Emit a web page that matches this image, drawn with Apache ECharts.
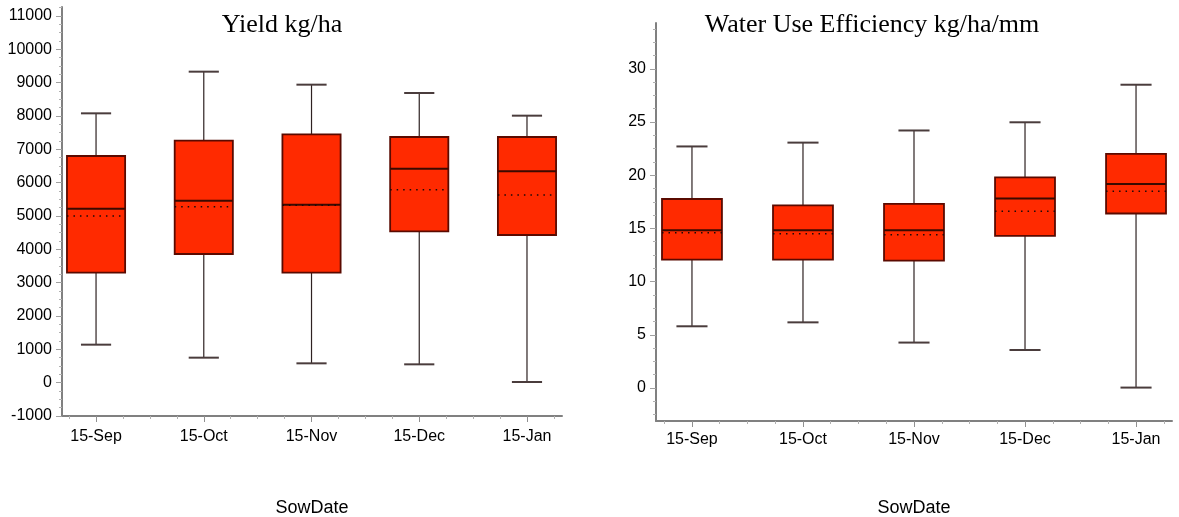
<!DOCTYPE html>
<html>
<head>
<meta charset="utf-8">
<script src="https://cdn.jsdelivr.net/npm/echarts@6/dist/echarts.min.js"></script>
<style>
  html, body { margin: 0; padding: 0; background: #fff; }
  #chart { width: 1179px; height: 517px; }
</style>
</head>
<body>
<div id="chart"></div>
<script>
// sowing dates (x categories, placed at 1..5 on a value axis)
const sowDates = ["15-Sep", "15-Oct", "15-Nov", "15-Dec", "15-Jan"];

// Yield kg/ha: [min, Q1, median, Q3, max] and mean
const yieldBox = [
  [1140, 3300, 5220, 6800, 8080],
  [750, 3860, 5460, 7260, 9330],
  [580, 3300, 5340, 7450, 8940],
  [550, 4540, 6420, 7370, 8690],
  [20, 4430, 6340, 7370, 8010]
];
const yieldMean = [5000, 5280, 5320, 5790, 5630];

// Water use efficiency kg/ha/mm
const wueBox = [
  [5.8, 12.07, 14.82, 17.76, 22.7],
  [6.17, 12.07, 14.82, 17.17, 23.06],
  [4.27, 11.97, 14.82, 17.3, 24.2],
  [3.57, 14.3, 17.8, 19.8, 24.97],
  [0.04, 16.4, 19.17, 22.0, 28.5]
];
const wueMean = [14.6, 14.5, 14.4, 16.6, 18.5];

// tick values
const catTicks = [1, 2, 3, 4, 5];
const catMinorTicks = [0.75, 1.25, 1.5, 1.75, 2.25, 2.5, 2.75, 3.25, 3.5, 3.75, 4.25, 4.5, 4.75, 5.25];
const yieldTicks = [-1000, 0, 1000, 2000, 3000, 4000, 5000, 6000, 7000, 8000, 9000, 10000, 11000];
const wueTicks = [0, 5, 10, 15, 20, 25, 30];

function minorList(from, to, step, skip) {
  const out = [];
  for (let v = from; v <= to + 1e-9; v += step) {
    const r = Math.round(v * 1000) / 1000;
    if (Math.abs(r / skip - Math.round(r / skip)) > 1e-6) out.push(r);
  }
  return out;
}
const yieldMinor = minorList(-1000, 11250, 250, 1000);
const wueMinor = minorList(-2.5, 33.75, 1.25, 5);

const FILL = "#ff2a00";
const EDGE = "#5a0a00";
const WHISK = "#2e2222";
const SANS = "'Liberation Sans', Arial, sans-serif";
const SERIF = "'Liberation Serif', 'Times New Roman', serif";

function boxData(box, mean) {
  return box.map((b, i) => [i + 1, b[0], b[1], b[2], b[3], b[4], mean[i]]);
}

function renderBox(params, api) {
  const x = api.value(0);
  const unit = api.size([1, 0])[0];
  const half = unit * 0.27;
  const cap = unit * 0.14;
  const pMin = api.coord([x, api.value(1)]);
  const pQ1 = api.coord([x, api.value(2)]);
  const pMed = api.coord([x, api.value(3)]);
  const pQ3 = api.coord([x, api.value(4)]);
  const pMax = api.coord([x, api.value(5)]);
  const pMean = api.coord([x, api.value(6)]);
  const cx = pMed[0];
  const line = (x1, y1, x2, y2, style) => ({ type: "line", shape: { x1, y1, x2, y2 }, style });
  return {
    type: "group",
    children: [
      line(cx, pMax[1], cx, pQ3[1], { stroke: WHISK, lineWidth: 1.2 }),
      line(cx, pQ1[1], cx, pMin[1], { stroke: WHISK, lineWidth: 1.2 }),
      line(cx - cap, pMax[1], cx + cap, pMax[1], { stroke: "#4a3c3c", lineWidth: 2 }),
      line(cx - cap, pMin[1], cx + cap, pMin[1], { stroke: "#4a3c3c", lineWidth: 2 }),
      {
        type: "rect",
        shape: { x: cx - half, y: pQ3[1], width: half * 2, height: pQ1[1] - pQ3[1] },
        style: { fill: FILL, stroke: EDGE, lineWidth: 1.8 }
      },
      line(cx - half, pMed[1], cx + half, pMed[1], { stroke: "#3a0a00", lineWidth: 2 }),
      line(cx - half, pMean[1], cx + half, pMean[1], { stroke: "#1a0a0a", lineWidth: 1.5, lineDash: [1.5, 5] })
    ]
  };
}

function xAxes(gridIndex, min, max, labelMargin, nameGap) {
  return [
    {
      type: "value", gridIndex, min, max, position: "bottom",
      axisLine: { onZero: false, lineStyle: { color: "#808080", width: 2 } },
      splitLine: { show: false },
      axisTick: { customValues: catTicks, length: 6, lineStyle: { color: "#909090" } },
      axisLabel: {
        customValues: catTicks, margin: labelMargin, color: "#000", fontFamily: SANS, fontSize: 16,
        formatter: (v) => sowDates[Math.round(v) - 1] || ""
      },
      name: "SowDate", nameLocation: "middle", nameGap,
      nameTextStyle: { color: "#000", fontFamily: SANS, fontSize: 18 }
    },
    {
      type: "value", gridIndex, min, max, position: "bottom", offset: 0,
      axisLine: { show: false, onZero: false }, splitLine: { show: false },
      axisTick: { show: true, customValues: catMinorTicks, length: 3, lineStyle: { color: "#b0b0b0" } },
      axisLabel: { show: false }
    }
  ];
}

function yAxes(gridIndex, min, max, ticks, minor) {
  return [
    {
      type: "value", gridIndex, min, max, position: "left",
      axisLine: { show: true, onZero: false, lineStyle: { color: "#808080", width: 2 } },
      splitLine: { show: false },
      axisTick: { show: true, customValues: ticks, length: 6, lineStyle: { color: "#a0a0a0" } },
      axisLabel: {
        customValues: ticks, margin: 10, color: "#000", fontFamily: SANS, fontSize: 16,
        formatter: (v) => String(v)
      }
    },
    {
      type: "value", gridIndex, min, max, position: "left", offset: 0,
      axisLine: { show: false, onZero: false }, splitLine: { show: false },
      axisTick: { show: true, customValues: minor, length: 3, lineStyle: { color: "#b0b0b0" } },
      axisLabel: { show: false }
    }
  ];
}

const chart = echarts.init(document.getElementById("chart"));
chart.setOption({
  animation: false,
  backgroundColor: "#fff",
  title: [
    { text: "Yield kg/ha", left: 277, top: 7, textAlign: "center",
      textStyle: { fontFamily: SERIF, fontWeight: "normal", fontSize: 26, color: "#000" } },
    { text: "Water Use Efficiency kg/ha/mm", left: 867, top: 7, textAlign: "center",
      textStyle: { fontFamily: SERIF, fontWeight: "normal", fontSize: 26, color: "#000" } }
  ],
  grid: [
    { left: 62, top: 7, width: 500, height: 409, outerBoundsMode: "none" },
    { left: 656, top: 23, width: 516, height: 398, outerBoundsMode: "none" }
  ],
  xAxis: [...xAxes(0, 0.684, 5.325, 13, 83), ...xAxes(1, 0.676, 5.324, 11, 78)],
  yAxis: [...yAxes(0, -1000, 11270, yieldTicks, yieldMinor), ...yAxes(1, -3.1, 34.3, wueTicks, wueMinor)],
  series: [
    {
      type: "custom", xAxisIndex: 0, yAxisIndex: 0,
      renderItem: renderBox, data: boxData(yieldBox, yieldMean),
      encode: { x: 0, y: [1, 2, 3, 4, 5, 6] }
    },
    {
      type: "custom", xAxisIndex: 2, yAxisIndex: 2,
      renderItem: renderBox, data: boxData(wueBox, wueMean),
      encode: { x: 0, y: [1, 2, 3, 4, 5, 6] }
    }
  ]
});
</script>
</body>
</html>
